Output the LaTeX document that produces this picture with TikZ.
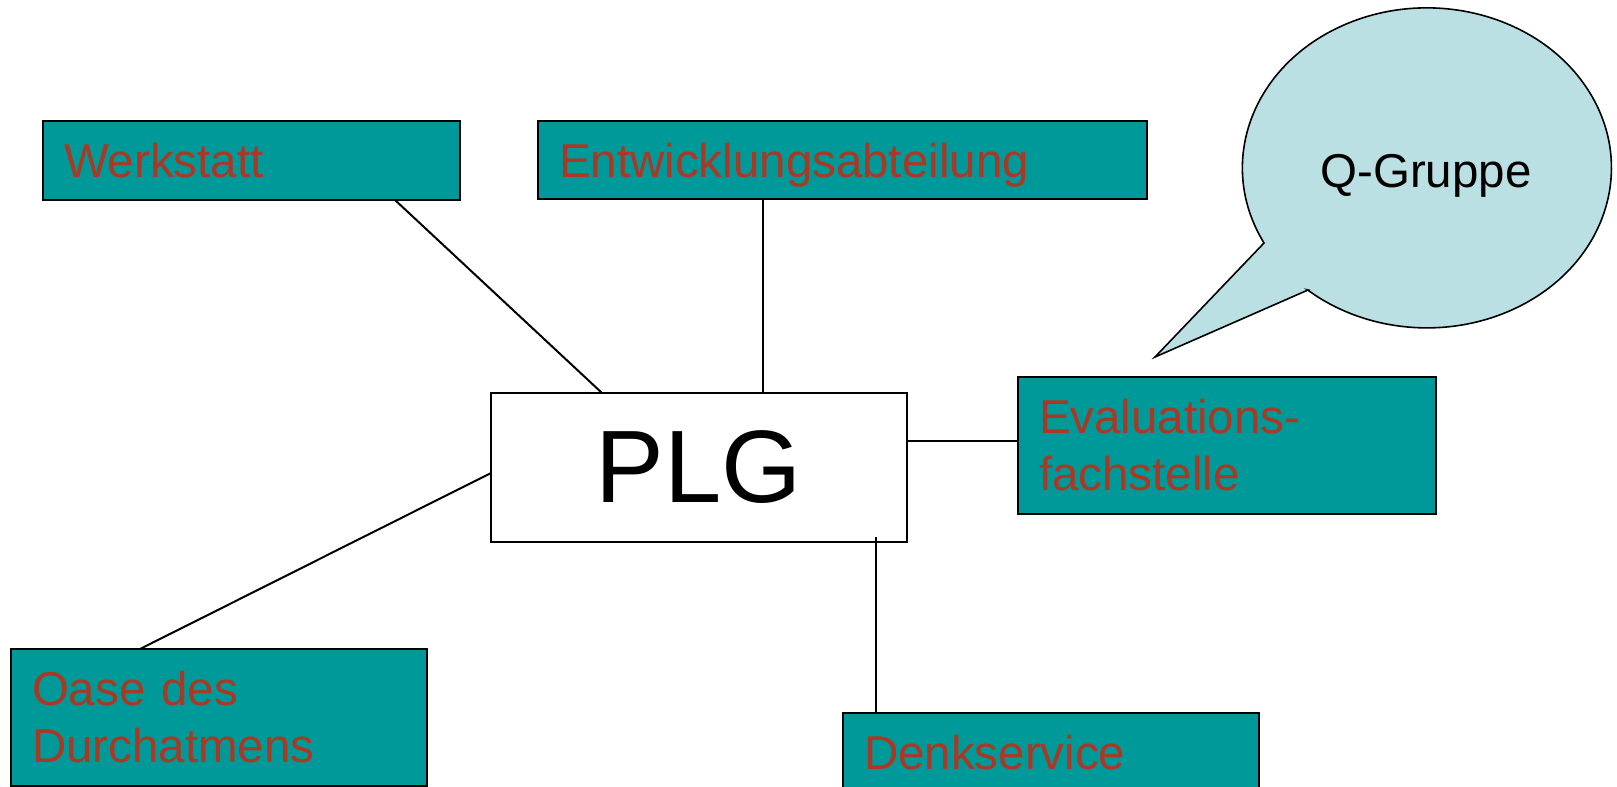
\documentclass[tikz,border=0pt]{standalone}
\usepackage{fontspec}
\setmainfont{Liberation Sans}
\usetikzlibrary{positioning}
\usetikzlibrary{calc}

\begin{document}
\begin{tikzpicture}[x=1pt, y=-1pt]
    \definecolor{unitfill}{RGB}{0,153,153}
    \definecolor{unittext}{RGB}{170,56,34}
    \definecolor{bubblefill}{RGB}{187,224,227}

\newcommand\labelsize{\fontsize{47.5}{57}\selectfont}

\useasboundingbox (0,0) rectangle (1617,787);

\tikzset{
    unit box/.style={
        draw=black, line width=2.8pt, fill=unitfill,
        text=unittext, font=\labelsize,
        rectangle, anchor=north west,
        align=left, inner xsep=21pt, inner ysep=0pt,
        outer sep=0pt,
    },
    one line/.style={
        text depth=0pt,
    },
    center box/.style={
        draw=black, line width=1.8pt, fill=white,
        font=\fontsize{103}{110}\selectfont,
        rectangle, anchor=north west,
        minimum width=416pt, minimum height=149pt,
        inner sep=0pt, outer sep=0pt,
    },
    link/.style={
        black, line width=2pt,
    },
    bubble/.style={
        draw=black, line width=1.6pt, fill=bubblefill,
        line join=miter,
    },
}

% the groups round the centre
\node[center box] (plg) at (491,393) {PLG};

\node[unit box, one line, text width=375pt, minimum height=79pt]
    (werk) at (43,121) {Werkstatt};
\node[unit box, one line, text width=567pt, minimum height=78pt]
    (entw) at (538,121) {Entwicklungsabteilung};
\node[unit box, text width=376pt, minimum height=137pt]
    (eval) at (1018,377) {Evaluations-\\fachstelle};
\node[unit box, text width=374pt, minimum height=137pt]
    (oase) at (11,649) {Oase des\\Durchatmens};
\node[unit box, one line, text width=374pt, minimum height=79pt]
    (denk) at (843,713) {Denkservice};

% links to the centre
\draw[link] ([xshift=352pt]werk.south west) -- ([xshift=111pt]plg.north west);

\draw[link] ([xshift=225pt]entw.south west) coordinate (entw-foot)
    -- (entw-foot |- plg.north);

\draw[link] ([yshift=26.5pt]plg.east) coordinate (plg-right)
    -- (plg-right -| eval.west);

\draw[link] ([xshift=129pt]oase.north west) -- ([yshift=-5.5pt]plg.west);

\draw[link] ([xshift=33pt]denk.north west) coordinate (denk-top)
    -- ($(denk-top |- plg.south)+(0,-5)$);

% speech bubble
\coordinate (q-tip) at (1155,357);
\filldraw[bubble] (1308,290) -- (q-tip) -- (1264,243)
    arc[start angle=152, end angle=490.3, x radius=184.5, y radius=160]
    -- cycle;
\node[font=\labelsize, anchor=base] (qgrp) at (1426,187) {Q-Gruppe};
\end{tikzpicture}
\end{document}
